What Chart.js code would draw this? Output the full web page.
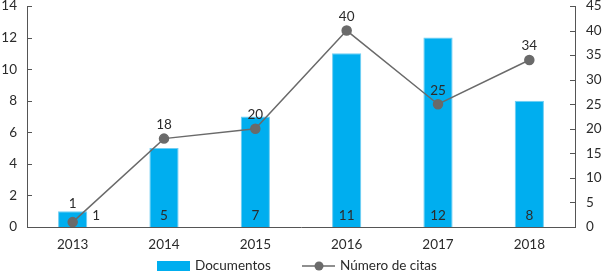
<!DOCTYPE html>
<html><head><meta charset="utf-8">
<script src="https://cdn.jsdelivr.net/npm/chart.js@4"></script>
<style>html,body{margin:0;padding:0;background:#fff}#wrap{width:602px;height:273px}</style>
</head><body><div id="wrap"><canvas id="c" width="602" height="273"></canvas></div>
<script>
const years = ['2013','2014','2015','2016','2017','2018'];
const documentos = [1, 5, 7, 11, 12, 8];
const citas = [1, 18, 20, 40, 25, 34];
const leftTicks = [0, 2, 4, 6, 8, 10, 12, 14];
const rightTicks = [0, 5, 10, 15, 20, 25, 30, 35, 40, 45];

const FONT = 'Lato, "Open Sans", sans-serif';
const FSIZE = 13.5;
const TXT = '#2b2b2b';
const AXIS = '#555';
const BLUE = '#00AEEF';
const GRAY = '#6a6a6a';

const overlay = {
  id: 'overlay',
  afterDatasetsDraw(chart) {
    const ctx = chart.ctx;
    const ca = chart.chartArea;
    const yl = chart.scales.y, yr = chart.scales.y1;
    ctx.save();
    ctx.strokeStyle = AXIS; ctx.lineWidth = 1;
    leftTicks.forEach(v => { const y = Math.round(yl.getPixelForValue(v)) + 0.5; ctx.beginPath(); ctx.moveTo(ca.left, y); ctx.lineTo(ca.left + 5, y); ctx.stroke(); });
    rightTicks.forEach(v => { const y = Math.round(yr.getPixelForValue(v)) + 0.5; ctx.beginPath(); ctx.moveTo(ca.right, y); ctx.lineTo(ca.right - 5, y); ctx.stroke(); });
    ctx.font = FSIZE + 'px ' + FONT; ctx.fillStyle = TXT; ctx.textBaseline = 'middle'; ctx.textAlign = 'center';
    const barMeta = chart.getDatasetMeta(0);
    barMeta.data.forEach((b, i) => {
      const h = b.base - b.y;
      if (h < 20) {
        ctx.fillText(String(documentos[i]), b.x, b.y - 8);
      } else {
        ctx.fillText(String(documentos[i]), b.x, b.base - 11);
      }
    });
    const lineMeta = chart.getDatasetMeta(1);
    lineMeta.data.forEach((p, i) => {
      const bar = barMeta.data[i];
      if (bar.base - bar.y < 20 && p.y > bar.y - 14) {
        ctx.textAlign = 'left';
        ctx.fillText(String(citas[i]), bar.x + bar.width / 2 + 5, bar.base - 11);
        ctx.textAlign = 'center';
      } else {
        ctx.fillText(String(citas[i]), p.x, p.y - 14);
      }
    });
    const ly = 266;
    ctx.fillStyle = BLUE; ctx.fillRect(157, ly - 5, 33, 10);
    ctx.fillStyle = TXT; ctx.textAlign = 'left';
    ctx.fillText(chart.data.datasets[0].label, 195, ly);
    ctx.strokeStyle = GRAY; ctx.lineWidth = 1.5;
    ctx.beginPath(); ctx.moveTo(302, ly); ctx.lineTo(335, ly); ctx.stroke();
    ctx.fillStyle = GRAY; ctx.beginPath(); ctx.arc(319, ly, 4.5, 0, Math.PI * 2); ctx.fill();
    ctx.fillStyle = TXT;
    ctx.fillText(chart.data.datasets[1].label, 340, ly);
    ctx.restore();
  }
};

function noPad(s) { s.paddingTop = 0; s.paddingBottom = 0; s.paddingLeft = 0; s.paddingRight = 0; }

new Chart(document.getElementById('c'), {
  data: {
    labels: years,
    datasets: [
      { type: 'bar', label: 'Documentos', data: documentos, yAxisID: 'y', backgroundColor: BLUE,
        borderColor: '#6fcdf2', borderWidth: 1, barPercentage: 0.32, categoryPercentage: 1, order: 1 },
      { type: 'line', label: 'Número de citas', data: citas, yAxisID: 'y1', borderColor: GRAY, borderWidth: 1.5,
        pointBackgroundColor: GRAY, pointBorderColor: GRAY, pointRadius: 4.5, tension: 0, order: 0 }
    ]
  },
  options: {
    responsive: false, animation: false,
    layout: { padding: { top: 6, bottom: 0, left: 0, right: 0 } },
    plugins: { legend: { display: false }, tooltip: { enabled: false } },
    scales: {
      x: { offset: true, grid: { display: false, drawTicks: false }, border: { display: true, color: AXIS, width: 1 },
        ticks: { padding: 10, color: TXT, font: { family: FONT, size: FSIZE } },
        afterFit(s) { s.height = 46; noPad(s); } },
      y: { position: 'left', min: 0, max: 14, grid: { display: false, drawTicks: false }, border: { display: true, color: AXIS, width: 1 },
        ticks: { stepSize: 2, padding: 10, color: TXT, font: { family: FONT, size: FSIZE } },
        afterFit(s) { s.width = 27; noPad(s); } },
      y1: { position: 'right', min: 0, max: 45, grid: { display: false, drawTicks: false }, border: { display: true, color: AXIS, width: 1 },
        ticks: { stepSize: 5, padding: 11, color: TXT, font: { family: FONT, size: FSIZE } },
        afterFit(s) { s.width = 27; noPad(s); } }
    }
  },
  plugins: [overlay]
});
</script></body></html>
